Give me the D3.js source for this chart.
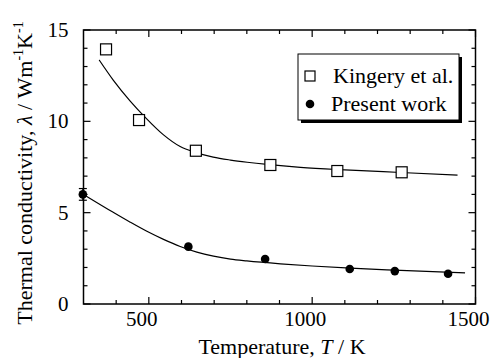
<!DOCTYPE html>
<html>
<head>
<meta charset="utf-8">
<script src="https://cdn.jsdelivr.net/npm/d3@7"></script>
<style>
  body { margin: 0; background: #fff; }
</style>
</head>
<body>
<div id="chart"></div>
<script>
// Kingery et al. (open squares)
const kingeryT = [369, 470, 644, 872, 1077, 1274];
const kingeryL = [13.94, 10.07, 8.39, 7.61, 7.28, 7.21];
// Present work (filled circles)
const presentT = [298, 621, 856, 1115, 1253, 1416];
const presentL = [6.0, 3.14, 2.46, 1.92, 1.80, 1.66];
const presentErr = [0.32, 0, 0, 0, 0, 0];
// Fitted curves
const fitUpperT = [348, 391, 443, 489, 545, 596, 642, 697, 750, 801, 862, 964, 1100, 1271, 1445];
const fitUpperL = [13.36, 12.26, 11.11, 10.22, 9.26, 8.62, 8.30, 8.04, 7.88, 7.76, 7.64, 7.48, 7.34, 7.20, 7.06];
const fitLowerT = [300, 391, 443, 494, 545, 596, 647, 698, 750, 800, 903, 1000, 1117, 1271, 1468];
const fitLowerL = [6.0, 5.02, 4.48, 3.98, 3.54, 3.15, 2.84, 2.62, 2.46, 2.36, 2.20, 2.08, 1.96, 1.84, 1.70];
// Axis ticks
const xMajor = [500, 1000, 1500];
const yMajor = [0, 5, 10, 15];

const FONT = 'Liberation Serif';
const W = 493, H = 358;
const margin = {top: 30, right: 17.5, bottom: 54, left: 83.5};
const width = W - margin.left - margin.right;
const height = H - margin.top - margin.bottom;

const svg = d3.select('#chart').append('svg')
    .attr('width', W).attr('height', H);
const g = svg.append('g')
    .attr('transform', `translate(${margin.left},${margin.top})`);

const x = d3.scaleLinear().domain([300, 1500]).range([0, width]);
const y = d3.scaleLinear().domain([0, 15]).range([height, 0]);

// Frame
g.append('rect')
    .attr('width', width).attr('height', height)
    .attr('fill', 'none').attr('stroke', '#000').attr('stroke-width', 1.5);

// Inward ticks on all four sides
const xMinor = d3.range(400, 1500, 100).filter(v => !xMajor.includes(v));
const yMinor = d3.range(1, 15, 1).filter(v => !yMajor.includes(v));
const tick = (x1, y1, x2, y2) => g.append('line')
    .attr('x1', x1).attr('y1', y1).attr('x2', x2).attr('y2', y2)
    .attr('stroke', '#000').attr('stroke-width', 1.2);
xMajor.concat(xMinor).forEach(v => {
    const len = xMajor.includes(v) ? 7 : 4;
    tick(x(v), height, x(v), height - len);
    tick(x(v), 0, x(v), len);
});
yMajor.concat(yMinor).forEach(v => {
    const len = yMajor.includes(v) ? 7 : 4;
    tick(0, y(v), len, y(v));
    tick(width, y(v), width - len, y(v));
});

// Tick labels
g.selectAll('.xl').data(xMajor).enter().append('text')
    .style('font-family', FONT)
    .attr('x', d => x(d) - 7).attr('y', height + 22)
    .attr('text-anchor', 'middle').attr('font-size', 21)
    .text(d => d);
g.selectAll('.yl').data(yMajor).enter().append('text')
    .style('font-family', FONT)
    .attr('x', -15).attr('y', d => y(d) + 7)
    .attr('text-anchor', 'end').attr('font-size', 21)
    .text(d => d);

// Axis titles
const xt = svg.append('text')
    .style('font-family', FONT)
    .attr('x', 282).attr('y', 354)
    .attr('text-anchor', 'middle').attr('font-size', 22);
xt.append('tspan').text('Temperature, ');
xt.append('tspan').attr('font-style', 'italic').text('T');
xt.append('tspan').text('  / K');

const yt = svg.append('text')
    .style('font-family', FONT)
    .attr('transform', 'translate(32,173) rotate(-90)')
    .attr('text-anchor', 'middle').attr('font-size', 22);
yt.append('tspan').text('Thermal conductivity, ');
yt.append('tspan').attr('font-style', 'italic').text('λ');
yt.append('tspan').text(' / Wm');
yt.append('tspan').attr('font-size', 14).attr('dy', -9).text('-1');
yt.append('tspan').attr('dy', 9).text('K');
yt.append('tspan').attr('font-size', 14).attr('dy', -9).text('-1');

// Fitted curves
const line = d3.line().x(d => x(d[0])).y(d => y(d[1])).curve(d3.curveMonotoneX);
[[fitUpperT, fitUpperL], [fitLowerT, fitLowerL]].forEach(([ts, ls]) => {
    g.append('path')
        .attr('d', line(ts.map((t, i) => [t, ls[i]])))
        .attr('fill', 'none').attr('stroke', '#000').attr('stroke-width', 1.2);
});

// Error bars
presentT.forEach((t, i) => {
    if (!presentErr[i]) return;
    const e = presentErr[i];
    tick(x(t), y(presentL[i] - e), x(t), y(presentL[i] + e));
    tick(x(t) - 4, y(presentL[i] - e), x(t) + 4, y(presentL[i] - e));
    tick(x(t) - 4, y(presentL[i] + e), x(t) + 4, y(presentL[i] + e));
});

// Markers
const sq = 11;
g.selectAll('.sq').data(kingeryT).enter().append('rect')
    .attr('x', d => x(d) - sq / 2)
    .attr('y', (d, i) => y(kingeryL[i]) - sq / 2)
    .attr('width', sq).attr('height', sq)
    .attr('fill', '#fff').attr('stroke', '#000').attr('stroke-width', 1.2);
g.selectAll('.ci').data(presentT).enter().append('circle')
    .attr('cx', d => x(d))
    .attr('cy', (d, i) => y(presentL[i]))
    .attr('r', 4.3).attr('fill', '#000');

// Legend with drop shadow
const lg = svg.append('g').attr('transform', 'translate(298,54)');
lg.append('rect').attr('x', 3).attr('y', 3).attr('width', 161).attr('height', 66).attr('fill', '#000');
lg.append('rect').attr('width', 161).attr('height', 66)
    .attr('fill', '#fff').attr('stroke', '#000').attr('stroke-width', 1);
lg.append('rect').attr('x', 7).attr('y', 17).attr('width', 10).attr('height', 10)
    .attr('fill', '#fff').attr('stroke', '#000').attr('stroke-width', 1.2);
lg.append('circle').attr('cx', 12).attr('cy', 50).attr('r', 4.3).attr('fill', '#000');
lg.append('text').style('font-family', FONT).attr('x', 35).attr('y', 29).attr('font-size', 22).text('Kingery et al.');
lg.append('text').style('font-family', FONT).attr('x', 33).attr('y', 57).attr('font-size', 22).text('Present work');
</script>
</body>
</html>
